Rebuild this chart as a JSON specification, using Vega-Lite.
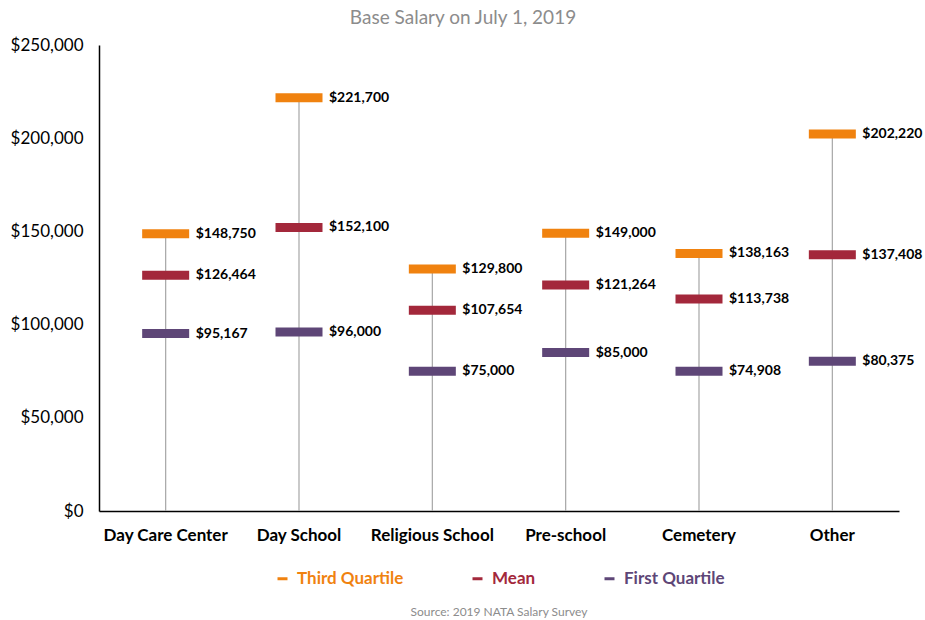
{
  "$schema": "https://vega.github.io/schema/vega-lite/v6.json",
  "width": 800,
  "height": 466,
  "autosize": {"type": "none"},
  "padding": {"left": 99, "top": 45, "right": 26, "bottom": 109},
  "background": "white",
  "config": {
    "font": "Lato",
    "view": {"stroke": null},
    "legend": {"layout": {"bottom": {"anchor": "middle"}}}
  },
  "title": {
    "text": "Base Salary on July 1, 2019",
    "fontSize": 19,
    "fontWeight": "normal",
    "color": "#8C8C8C",
    "anchor": "middle",
    "dx": -36,
    "offset": 8
  },
  "data": {
    "values": [
      {"cat": "Day Care Center", "Third Quartile": 148750, "Mean": 126464, "First Quartile": 95167},
      {"cat": "Day School", "Third Quartile": 221700, "Mean": 152100, "First Quartile": 96000},
      {"cat": "Religious School", "Third Quartile": 129800, "Mean": 107654, "First Quartile": 75000},
      {"cat": "Pre-school", "Third Quartile": 149000, "Mean": 121264, "First Quartile": 85000},
      {"cat": "Cemetery", "Third Quartile": 138163, "Mean": 113738, "First Quartile": 74908},
      {"cat": "Other", "Third Quartile": 202220, "Mean": 137408, "First Quartile": 80375}
    ]
  },
  "layer": [
    {
      "mark": {"type": "rule", "color": "#A6A6A6", "strokeWidth": 1.2},
      "encoding": {
        "x": {
          "field": "cat",
          "type": "nominal",
          "sort": null,
          "scale": {"paddingInner": 0, "paddingOuter": 0},
          "axis": {
            "title": null,
            "labelAngle": 0,
            "labelFontSize": 17,
            "labelFontWeight": "bold",
            "labelColor": "#000000",
            "labelPadding": 16,
            "ticks": false,
            "domainColor": "#000000",
            "domainWidth": 1.5
          }
        },
        "y": {
          "field": "Third Quartile",
          "type": "quantitative",
          "scale": {"domain": [0, 250000], "nice": false},
          "axis": {
            "title": null,
            "values": [0, 50000, 100000, 150000, 200000, 250000],
            "format": "$,.0f",
            "grid": false,
            "ticks": false,
            "labelFontSize": 17,
            "labelColor": "#000000",
            "labelPadding": 16,
            "domainColor": "#000000",
            "domainWidth": 1.5
          }
        },
        "y2": {"datum": 0}
      }
    },
    {
      "transform": [
        {"fold": ["Third Quartile", "Mean", "First Quartile"], "as": ["series", "value"]}
      ],
      "mark": {"type": "tick", "size": 47, "thickness": 9, "opacity": 1},
      "encoding": {
        "x": {"field": "cat", "type": "nominal", "sort": null},
        "y": {"field": "value", "type": "quantitative"},
        "color": {
          "field": "series",
          "type": "nominal",
          "scale": {
            "domain": ["Third Quartile", "Mean", "First Quartile"],
            "range": ["#F0820F", "#A3283B", "#5E4677"]
          },
          "legend": {
            "orient": "bottom",
            "direction": "horizontal",
            "title": "Source: 2019 NATA Salary Survey",
            "titleOrient": "bottom",
            "titleAnchor": "middle",
            "titleFontSize": 12,
            "titleFontWeight": "normal",
            "titleColor": "#8C8C8C",
            "titlePadding": 20,
            "symbolType": "M-1,-0.3L1,-0.3L1,0.3L-1,0.3Z",
            "symbolSize": 100,
            "symbolOpacity": 1,
            "labelFontSize": 17,
            "labelFontWeight": "bold",
            "labelOffset": 6,
            "labelColor": {"expr": "datum.value == 'Third Quartile' ? '#F0820F' : datum.value == 'Mean' ? '#A3283B' : '#5E4677'"},
            "columnPadding": 65,
            "offset": 27
          }
        }
      }
    },
    {
      "transform": [
        {"fold": ["Third Quartile", "Mean", "First Quartile"], "as": ["series", "value"]}
      ],
      "mark": {"type": "text", "align": "left", "baseline": "middle", "dx": 30, "fontSize": 14, "fontWeight": "bold", "color": "#000000"},
      "encoding": {
        "x": {"field": "cat", "type": "nominal", "sort": null},
        "y": {"field": "value", "type": "quantitative"},
        "text": {"field": "value", "type": "quantitative", "format": "$,.0f"}
      }
    }
  ]
}
